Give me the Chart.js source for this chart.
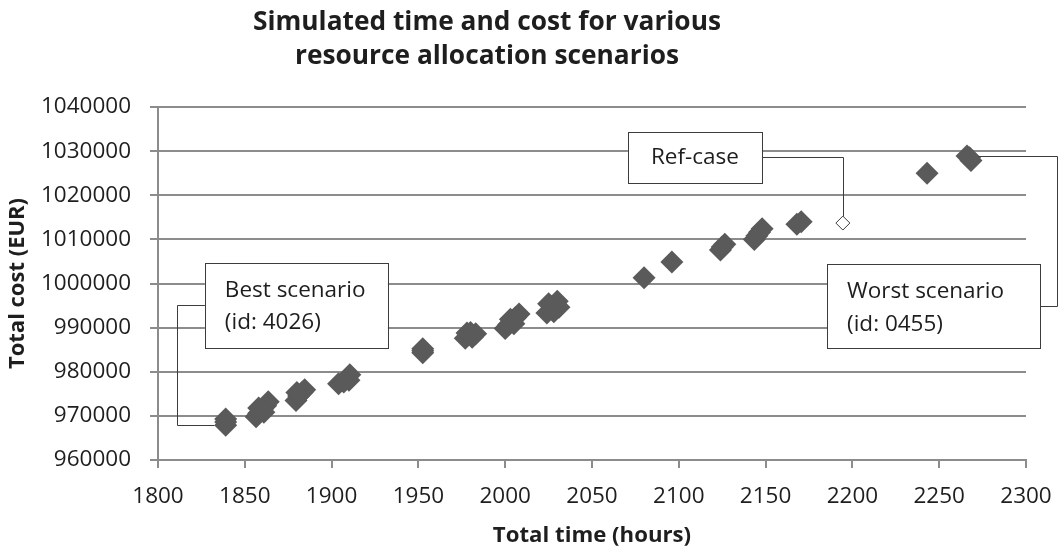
<!DOCTYPE html>
<html>
<head>
<meta charset="utf-8">
<title>Simulated time and cost</title>
<script src="https://cdn.jsdelivr.net/npm/chart.js@4.4.1/dist/chart.umd.min.js"></script>
<style>
  body { margin: 0; background: #fff; }
  canvas { display: block; }
</style>
</head>
<body>
<canvas id="costChart" width="1058" height="551"></canvas>
<script>
// simulated scenarios (hours, EUR)
const scenarioTime = [
  1839, 1839, 1839,
  1856.5, 1858, 1860, 1862, 1863.5, 1858, 1861,
  1879.5, 1881, 1883, 1884.5, 1880,
  1904, 1910, 1910.5, 1907,
  1952.5, 1952.5, 1952.5,
  1977, 1980, 1983, 1978, 1981,
  2000, 2002, 2004, 2006, 2008, 2003, 2005,
  2024, 2027, 2030, 2031, 2025, 2028,
  2080, 2096,
  2124, 2126.5, 2125,
  2143.5, 2145, 2146.5, 2148,
  2168, 2170.5,
  2243,
  2266, 2268.3, 2267.5
];
const scenarioCost = [
  969300, 967900, 968600,
  969800, 970600, 971500, 972300, 973200, 971800, 970800,
  973500, 974500, 975300, 975900, 975300,
  977300, 978100, 979300, 977700,
  985200, 984300, 984750,
  987600, 988900, 988600, 988800, 987800,
  989800, 990700, 991500, 992300, 993100, 991900, 990900,
  993300, 994800, 996000, 994600, 995400, 993600,
  1001300, 1004900,
  1007600, 1008900, 1008300,
  1010000, 1010800, 1011600, 1012400,
  1013400, 1014000,
  1025000,
  1028900, 1027900, 1028500
];
const refCaseTime = [2194.5];
const refCaseCost = [1013700];

const bestIndex = 1;   // id 4026
const worstIndex = 52; // id 0455

const titleLines = ["Simulated time and cost for various", "resource allocation scenarios"];
const xTitle = "Total time (hours)";
const yTitle = "Total cost (EUR)";

const textColor = "#1e1e1e";
const gridColor = "#8c8c8c";
const markerColor = "#5a5a5a";
const lineColor = "#3c3c3c";

const scenarios = scenarioTime.map((t, i) => ({ x: t, y: scenarioCost[i] }));
const refCase = refCaseTime.map((t, i) => ({ x: t, y: refCaseCost[i] }));

const drawBox = (ctx, left, top, w, h) => {
  ctx.fillStyle = "#fff";
  ctx.fillRect(left, top, w, h);
  ctx.strokeStyle = lineColor;
  ctx.lineWidth = 1;
  ctx.strokeRect(Math.round(left) + 0.5, Math.round(top) + 0.5, w, h);
};

const drawPath = (ctx, pts) => {
  ctx.strokeStyle = lineColor;
  ctx.lineWidth = 1;
  ctx.beginPath();
  pts.forEach(([px, py], i) => {
    const sx = Math.round(px) + 0.5, sy = Math.round(py) + 0.5;
    if (i === 0) ctx.moveTo(sx, sy); else ctx.lineTo(sx, sy);
  });
  ctx.stroke();
};

const calloutPlugin = {
  id: "callouts",
  afterDraw(chart) {
    const { ctx, scales: { x, y } } = chart;
    ctx.save();

    // title
    ctx.fillStyle = textColor;
    ctx.font = 'bold 26.3px "Open Sans"';
    ctx.textAlign = "center";
    ctx.textBaseline = "alphabetic";
    titleLines.forEach((line, i) => ctx.fillText(line, 487, 30 + i * 34));

    ctx.font = '22.5px "Open Sans"';
    ctx.textBaseline = "middle";

    // best scenario
    const best = scenarios[bestIndex];
    let left = x.getPixelForValue(1827), top = y.getPixelForValue(1004700);
    let w = 183, h = 85;
    drawPath(ctx, [
      [left, top + h / 2], [left - 28, top + h / 2],
      [left - 28, y.getPixelForValue(best.y)],
      [x.getPixelForValue(best.x) - 12, y.getPixelForValue(best.y)]
    ]);
    drawBox(ctx, left, top, w, h);
    ctx.fillStyle = textColor;
    ctx.textAlign = "left";
    ctx.fillText("Best scenario", left + 20, top + 28);
    ctx.fillText("(id: 4026)", left + 20, top + 60);

    // ref-case
    const ref = refCase[0];
    left = x.getPixelForValue(2070.7); top = y.getPixelForValue(1034400);
    w = 134; h = 51;
    drawPath(ctx, [
      [left + w, top + h / 2],
      [x.getPixelForValue(ref.x), top + h / 2],
      [x.getPixelForValue(ref.x), y.getPixelForValue(ref.y) - 7]
    ]);
    drawBox(ctx, left, top, w, h);
    ctx.fillStyle = textColor;
    ctx.textAlign = "center";
    ctx.fillText("Ref-case", left + w / 2, top + h / 2);

    // worst scenario
    const worst = scenarios[worstIndex];
    left = x.getPixelForValue(2185.4); top = y.getPixelForValue(1004490);
    w = 213; h = 84;
    drawPath(ctx, [
      [left + w, top + h / 2], [left + w + 17, top + h / 2],
      [left + w + 17, y.getPixelForValue(worst.y)],
      [x.getPixelForValue(worst.x) + 11, y.getPixelForValue(worst.y)]
    ]);
    drawBox(ctx, left, top, w, h);
    ctx.fillStyle = textColor;
    ctx.textAlign = "left";
    ctx.fillText("Worst scenario", left + 20, top + 28);
    ctx.fillText("(id: 0455)", left + 20, top + 61);

    ctx.restore();
  }
};

const renderChart = () => {
  new Chart(document.getElementById("costChart"), {
    type: "scatter",
    data: {
      datasets: [
        {
          label: "Scenarios",
          data: scenarios,
          pointStyle: "rectRot",
          pointRadius: 11.5,
          pointHoverRadius: 11.5,
          backgroundColor: markerColor,
          borderWidth: 0,
        },
        {
          label: "Ref-case",
          data: refCase,
          pointStyle: "rectRot",
          pointRadius: 7,
          pointHoverRadius: 7,
          backgroundColor: "#fff",
          borderColor: lineColor,
          borderWidth: 1,
        },
      ],
    },
    options: {
      responsive: false,
      animation: false,
      layout: { padding: { top: 107, right: 32, bottom: 0, left: 0 } },
      plugins: { legend: { display: false }, tooltip: { enabled: false } },
      scales: {
        x: {
          type: "linear",
          min: 1800,
          max: 2300,
          afterFit: (scale) => {
            scale.height = 91;
            scale.paddingLeft = 0;
            scale.paddingRight = 0;
          },
          ticks: {
            stepSize: 50,
            padding: 15,
            color: textColor,
            font: { family: "Open Sans", size: 22.5, lineHeight: 1.2 },
            callback: (v) => String(v),
          },
          grid: { drawOnChartArea: false, drawTicks: true, tickLength: 8, color: gridColor, lineWidth: 2 },
          border: { display: true, color: gridColor, width: 2 },
          title: {
            display: true,
            text: xTitle,
            color: textColor,
            font: { family: "Open Sans", size: 22.2, weight: "bold", lineHeight: 1.2 },
            padding: { top: 0, bottom: 2 },
          },
        },
        y: {
          min: 960000,
          max: 1040000,
          afterFit: (scale) => { scale.width = 158; },
          ticks: {
            stepSize: 10000,
            padding: 19,
            color: textColor,
            font: { family: "Open Sans", size: 22.5, lineHeight: 1.2 },
            callback: (v) => String(v),
          },
          grid: { color: gridColor, lineWidth: 2, tickLength: 8 },
          border: { display: true, color: gridColor, width: 2 },
          title: {
            display: true,
            text: yTitle,
            color: textColor,
            font: { family: "Open Sans", size: 22, weight: "bold", lineHeight: 1.2 },
            padding: { top: 5, bottom: 0 },
          },
        },
      },
    },
    plugins: [calloutPlugin],
  });
};

Promise.all([
  document.fonts.load('22px "Open Sans"'),
  document.fonts.load('bold 22px "Open Sans"'),
]).then(renderChart, renderChart);
</script>
</body>
</html>
